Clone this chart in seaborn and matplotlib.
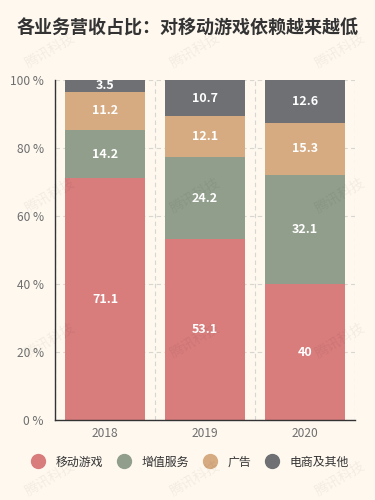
import matplotlib
matplotlib.use("Agg")
import matplotlib.pyplot as plt
import seaborn as sns
import numpy as np
import pandas as pd
from matplotlib.lines import Line2D

years = ["2018", "2019", "2020"]
series_names = ["移动游戏", "增值服务", "广告", "电商及其他"]
mobile_games = [71.1, 53.1, 40]
value_added = [14.2, 24.2, 32.1]
advertising = [11.2, 12.1, 15.3]
ecommerce = [3.5, 10.7, 12.6]
y_ticks = [0, 20, 40, 60, 80, 100]

colors = ["#d87c7c", "#919e8b", "#d7ab82", "#6e7074"]
bg = "#fef8ef"

sns.set_theme(style="white")
plt.rcParams['font.family'] = ['Noto Sans CJK SC', 'DejaVu Sans']

series = [mobile_games, value_added, advertising, ecommerce]
fig = plt.figure(figsize=(3.75, 5), dpi=100, facecolor=bg)
ax = fig.add_axes([55/375, 80/500, 300/375, 340/500])
ax.set_facecolor(bg)

# cumulative stacks drawn from top down
cum = np.cumsum(np.array(series), axis=0)
for i in range(len(series) - 1, -1, -1):
    df = pd.DataFrame({"year": years, "value": cum[i]})
    sns.barplot(data=df, x="year", y="value", color=colors[i], width=0.8,
                saturation=1, ax=ax, zorder=2, linewidth=0)

# labels
for i, s in enumerate(series):
    base = cum[i] - np.array(s)
    for j, v in enumerate(s):
        yc = base[j] + v / 2
        if base[j] + v > 100:
            yc = base[j] + (100 - base[j]) / 2
        txt = f"{v:g}"
        ax.text(j, yc, txt, ha="center", va="center", color="white",
                fontsize=9, fontweight="bold", zorder=5)

ax.set_xlim(-0.5, 2.5)
ax.set_ylim(0, 100)
ax.set_yticks(y_ticks)
ax.set_yticklabels([f"{t} %" for t in y_ticks], color="#6e6e6e", fontsize=8.6)
ax.set_xticks([-0.5, 0.5, 1.5, 2.5])
ax.set_xticklabels([])
ax.set_xticks([0, 1, 2], minor=True)
ax.set_xticklabels(years, minor=True, color="#6e6e6e", fontsize=8.6)
ax.tick_params(axis="x", which="major", length=5, width=1, color="#333333", direction="out")
ax.tick_params(axis="x", which="minor", length=0, pad=5)
ax.tick_params(axis="y", length=5, width=1, color="#333333", direction="out", pad=3)
ax.set_xlabel("")
ax.set_ylabel("")

for sp in ["top", "right"]:
    ax.spines[sp].set_visible(False)
for sp in ["left", "bottom"]:
    ax.spines[sp].set_color("#333333")
    ax.spines[sp].set_linewidth(1)
    ax.spines[sp].set_zorder(6)

ax.grid(True, axis="both", which="major", linestyle=(0, (4, 3)), color="#d9d6d0",
        linewidth=0.8, zorder=0)
ax.set_axisbelow(True)

fig.text(188/375, 1 - 28/500, "各业务营收占比：对移动游戏依赖越来越低", ha="center", va="center",
         fontsize=13, fontweight="bold", color="#333333")

handles = [Line2D([0], [0], marker="o", linestyle="", markersize=10,
                  markerfacecolor=c, markeredgecolor=c) for c in colors]
fig.legend(handles, series_names, loc="center", bbox_to_anchor=(0.5, 1 - 462/500),
           ncol=4, frameon=False, fontsize=8.6, handletextpad=0.5, columnspacing=0.7,
           labelcolor="#333333")

# watermarks
for yy in [50, 195, 340, 478]:
    for xx in [50, 195, 340]:
        fig.text(xx/375, 1 - yy/500, "腾讯科技", rotation=30, ha="center", va="center",
                 fontsize=10, color="#000000", alpha=0.05, zorder=10)

fig.savefig("out.png", dpi=100, facecolor=bg)
